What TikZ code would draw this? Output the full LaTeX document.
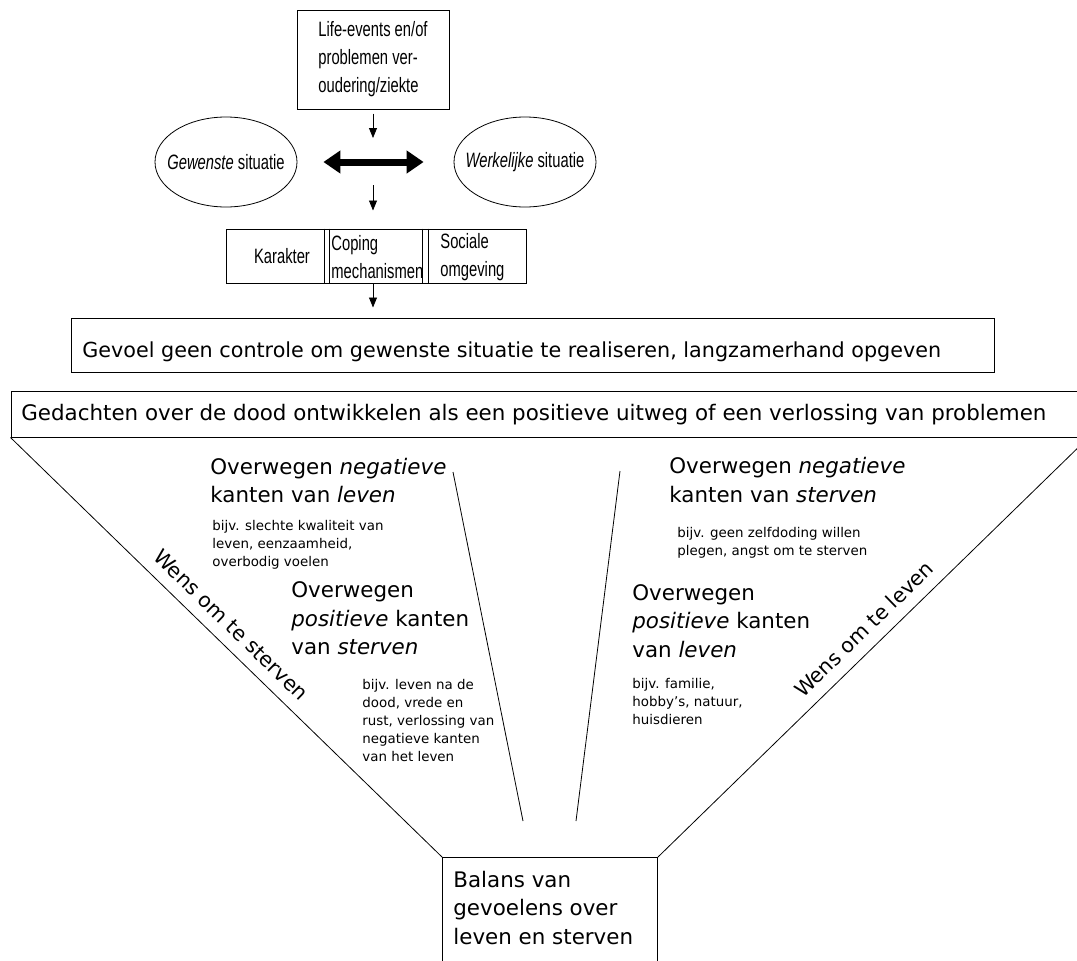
\documentclass[tikz,border=0pt]{standalone}
\usepackage{fontspec}
\setmainfont{DejaVu Sans}
\newfontfamily\narrowfont{Liberation Sans}[FakeStretch=0.71]
\usetikzlibrary{shapes.geometric, arrows.meta, positioning}

\newcommand{\txttop}{\narrowfont\fontsize{20.8}{28}\selectfont}
\newcommand{\txtbar}{\fontsize{21}{25}\selectfont}
\newcommand{\txtbig}{\fontsize{21.4}{28.5}\selectfont}
\newcommand{\txtsmall}{\fontsize{13.4}{18}\selectfont}

\begin{document}
\begin{tikzpicture}[x=1pt, y=-1pt, line width=0.8pt,
		box/.style = {draw, line width=1pt},
		bubble/.style = {draw, ellipse, minimum width=142pt, minimum height=90pt, inner sep=0pt},
		arr/.style = {-{Triangle[length=10pt,width=8pt]}},
		fat/.style = {{Triangle[length=17pt,width=22pt]}-{Triangle[length=17pt,width=22pt]}, line width=7pt},
		note/.style = {anchor=north west, inner sep=0pt, align=left}]
			\useasboundingbox (0,0) rectangle (1077,961);
			\clip (0,0) rectangle (1077,961);
			
			\node[box, minimum width=152pt, minimum height=99pt, align=left, font=\txttop] (life) at (373,59.5)
			{Life-events en/of\\problemen ver-\\oudering/ziekte};
			
			\node[bubble] (gew) at (226,162) {};
			\node[font=\txttop] (gewtxt) at (gew) {\textit{Gewenste} situatie};
			\node[bubble] (wer) at (525,162) {};
			\node[font=\txttop] (wertxt) at (wer) {\textit{Werkelijke} situatie};
			\draw[fat, shorten <=26pt, shorten >=30pt] (gew) -- (wer);
			
			\coordinate (a1) at (373,138);
			\coordinate (a2) at (373,185);
			\draw[arr, shorten <=4pt] (life) -- (a1);
			
			\node[box, minimum width=300pt, minimum height=54pt] (row) at (376,256) {};
			\foreach \x in {324,329,422,428}
				\draw[line width=1pt] (\x,0 |- row.north) -- (\x,0 |- row.south);
			\node[font=\txttop, anchor=base, inner sep=0pt] (kar) at (282,263) {Karakter};
			\node[font=\txttop, anchor=west, align=left, inner sep=0pt] (cop) at (331,257) {Coping\\mechanismen};
			\node[font=\txttop, anchor=west, align=left, inner sep=0pt] (soc) at (440,257) {Sociale\\omgeving};
			\draw[arr, shorten >=18pt] (a2) -- (a2 |- row.north);
			
			\node[box, minimum width=923pt, minimum height=54pt] (gevoel) at (532.5,345) {};
			\node[anchor=base west, inner sep=0pt, font=\fontsize{20.7}{25}\selectfont] (gevtxt) at (82,357)
			{Gevoel geen controle om gewenste situatie te realiseren, langzamerhand opgeven};
			\draw[arr, shorten >=10pt] (a1 |- row.south) -- (a1 |- gevoel.north);
			
			\node[box, minimum width=1077pt, minimum height=46pt] (ged) at (549.5,414) {};
			\node[anchor=base west, inner sep=0pt, font=\fontsize{21.4}{25}\selectfont] (gedtxt) at (21,420)
			{Gedachten over de dood ontwikkelen als een positieve uitweg of een verlossing van problemen};
			
			\node[box, anchor=north west, minimum width=215pt, minimum height=130pt] (bal) at (442,857) {};
			\node[note, font=\txtbig] (baltxt) at (453,870.5) {Balans van\\gevoelens over\\leven en sterven};
			
			\draw (ged.south west) -- node[sloped, above=8pt, pos=0.48, font=\fontsize{20.5}{25}\selectfont] (wst) {Wens om te sterven} (bal.north west);
			\draw (bal.north east) -- node[sloped, above=8pt, pos=0.51, font=\fontsize{20.5}{25}\selectfont] (wle) {Wens om te leven} (ged.south east);
			\draw (453,472) -- (523,821);
			\draw (620,471) -- (576,821);
			
			\node[note, font=\txtbig] (neg1) at (210,457.5) {Overwegen \textit{negatieve}\\kanten van \textit{leven}};
			\node[note, font=\txtsmall] (ex1) at (212,520) {bijv. slechte kwaliteit van\\leven, eenzaamheid,\\overbodig voelen};
			\node[note, font=\txtbig] (pos1) at (291,581.5) {Overwegen\\\textit{positieve} kanten\\van \textit{sterven}};
			\node[note, font=\txtsmall] (ex2) at (362,679) {bijv. leven na de\\dood, vrede en\\rust, verlossing van\\negatieve kanten\\van het leven};
			
			\node[note, font=\txtbig] (neg2) at (669,457) {Overwegen \textit{negatieve}\\kanten van \textit{sterven}};
			\node[note, font=\txtsmall] (ex3) at (677,527) {bijv. geen zelfdoding willen\\plegen, angst om te sterven};
			\node[note, font=\txtbig] (pos2) at (632,584) {Overwegen\\\textit{positieve} kanten\\van \textit{leven}};
			\node[note, font=\txtsmall] (ex4) at (632,678) {bijv. familie,\\hobby's, natuur,\\huisdieren};
		\end{tikzpicture}
\end{document}
